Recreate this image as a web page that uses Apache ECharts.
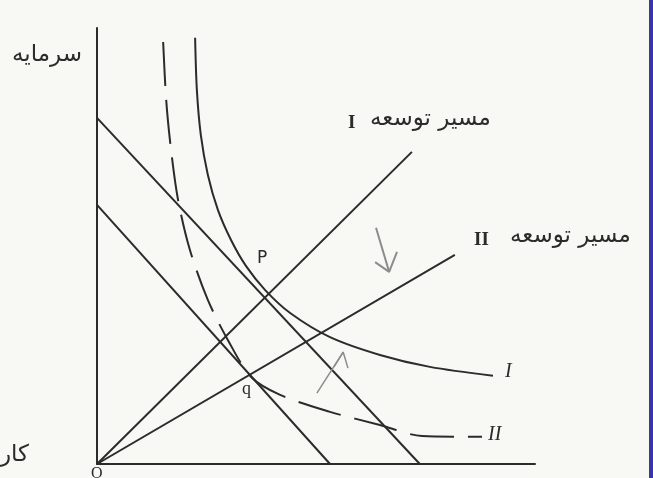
<!DOCTYPE html>
<html>
<head>
<meta charset="utf-8">
<script src="https://cdn.jsdelivr.net/npm/echarts@6/dist/echarts.min.js"></script>
<style>
  html, body { margin: 0; padding: 0; background: #f8f8f5; }
  #chart { width: 653px; height: 478px; }
</style>
</head>
<body>
<div id="chart"></div>
<script>
// units: labour on x, capital on y
const budgetOuter = [[0, 8.16], [7.37, 0]]
const budgetInner = [[0, 6.11], [5.32, 0]]
const pathOne = [[0, 0], [7.19, 7.36]]
const pathTwo = [[0, 0], [8.17, 4.93]]

const isoquantOne = [
    [2.24, 10.05], [2.28, 8.82], [2.37, 7.76], [2.53, 6.82], [2.76, 5.99],
    [3.06, 5.28], [3.40, 4.67], [3.84, 4.10], [4.41, 3.56], [5.32, 2.99],
    [6.46, 2.57], [7.60, 2.29], [9.04, 2.08]
]
const isoquantTwo = [
    [1.51, 9.95], [1.58, 8.58], [1.69, 7.41], [1.85, 6.23], [2.12, 5.05],
    [2.53, 3.87], [2.99, 2.92], [3.52, 2.05], [4.18, 1.63], [5.32, 1.23],
    [6.46, 0.92], [7.42, 0.66], [8.79, 0.64]
]

// hand drawn arrows (shaft + head)
const arrowDown = [[6.37, 5.57], [6.67, 4.53]]
const arrowDownHead = [[6.35, 4.76], [6.67, 4.53], [6.85, 5.0]]
const arrowUp = [[5.02, 1.67], [5.62, 2.64]]
const arrowUpHead = [[5.41, 2.29], [5.62, 2.64], [5.73, 2.26]]

const ink = '#2b2b2b'
const pencil = '#8c8c8c'
const fa = '"DejaVu Sans", sans-serif'
const serif = '"Liberation Serif", "DejaVu Serif", serif'

const chart = echarts.init(document.getElementById('chart'))

const straight = (data, color, width) => ({
    type: 'line',
    data: data,
    symbol: 'none',
    clip: false,
    silent: true,
    lineStyle: { color: color, width: width }
})

chart.setOption({
    backgroundColor: '#f8f8f5',
    animation: false,
    grid: { left: 97, right: 118, top: 28, bottom: 14 },
    xAxis: {
        type: 'value', min: 0, max: 10,
        axisLine: { show: true, onZero: false, lineStyle: { color: ink, width: 2 } },
        axisTick: { show: false },
        axisLabel: { show: false },
        splitLine: { show: false }
    },
    yAxis: {
        type: 'value', min: 0, max: 10.28,
        axisLine: { show: true, onZero: false, lineStyle: { color: ink, width: 2 } },
        axisTick: { show: false },
        axisLabel: { show: false },
        splitLine: { show: false }
    },
    series: [
        straight(budgetOuter, ink, 2),
        straight(budgetInner, ink, 2),
        straight(pathOne, ink, 2),
        straight(pathTwo, ink, 2),
        Object.assign(straight(isoquantOne, ink, 2), { smooth: 0.3 }),
        Object.assign(straight(isoquantTwo, ink, 2), {
            smooth: 0.3,
            lineStyle: { color: ink, width: 2, type: [44, 14] }
        }),
        straight(arrowDown, pencil, 2),
        straight(arrowDownHead, pencil, 2),
        straight(arrowUp, pencil, 1.5),
        straight(arrowUpHead, pencil, 1.5)
    ],
    graphic: [
        { type: 'text', left: 12, top: 44, style: { text: 'سرمایه', font: '23px ' + fa, fill: ink } },
        { type: 'text', left: 0, top: 444, style: { text: 'کار', font: '23px ' + fa, fill: ink } },
        { type: 'text', left: 91, top: 466, style: { text: 'O', font: '16px ' + serif, fill: ink } },
        { type: 'text', left: 348, top: 114, style: { text: 'I', font: 'bold 19px ' + serif, fill: ink } },
        { type: 'text', left: 370, top: 108, style: { text: 'مسیر توسعه', font: '23px ' + fa, fill: ink } },
        { type: 'text', left: 474, top: 231, style: { text: 'II', font: 'bold 19px ' + serif, fill: ink } },
        { type: 'text', left: 510, top: 225, style: { text: 'مسیر توسعه', font: '23px ' + fa, fill: ink } },
        { type: 'text', left: 257, top: 250, style: { text: 'P', font: '17px ' + fa, fill: ink } },
        { type: 'text', left: 242, top: 380, style: { text: 'q', font: '18px ' + serif, fill: ink } },
        { type: 'text', left: 505, top: 362, style: { text: 'I', font: 'italic 20px ' + serif, fill: ink } },
        { type: 'text', left: 488, top: 425, style: { text: 'II', font: 'italic 20px ' + serif, fill: ink } },
        { type: 'rect', right: 0, top: 0, shape: { width: 4, height: 478 }, style: { fill: '#3636a8' } }
    ]
})
</script>
</body>
</html>
